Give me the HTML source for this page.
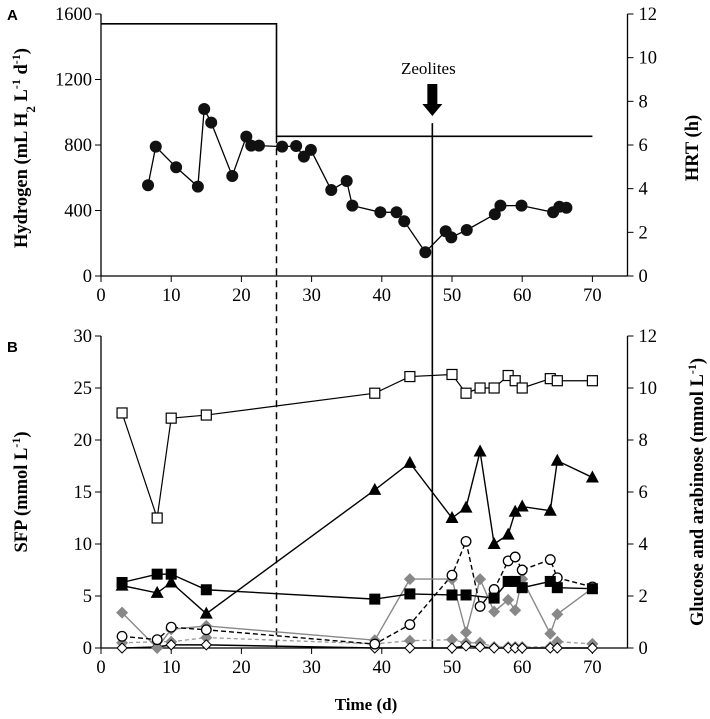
<!DOCTYPE html>
<html><head><meta charset="utf-8"><style>
html,body{margin:0;padding:0;background:#fff;}
svg{display:block;font-family:"Liberation Serif",serif;}
</style></head><body>
<svg id="chart" width="710" height="719" viewBox="0 0 710 719" xmlns="http://www.w3.org/2000/svg"></svg>
<script>
// ---- Panel A data ----
const h2Days = [6.7,7.8,10.7,13.8,14.7,15.7,18.7,20.7,21.4,22.5,25.8,27.8,28.9,29.9,32.8,35.0,35.8,39.8,42.1,43.2,46.2,49.1,49.9,52.1,56.1,56.9,59.9,64.4,65.3,66.3];
const h2Values = [554,790,664,546,1020,937,611,851,796,796,790,794,729,770,525,580,430,389,389,334,145,273,236,281,377,430,430,389,423,417];
const hrtDays = [0,25,25,70];
const hrtValues = [11.55,11.55,6.4,6.4];
const aLeftTicks = [0,400,800,1200,1600];
const aRightTicks = [0,2,4,6,8,10,12];
const xTicks = [0,10,20,30,40,50,60,70];
// ---- Panel B data ----
const bDays = [3,8,10,15,39,44,50,52,54,56,58,59,60,64,65,70];
const openSquares = [22.6,12.5,22.1,22.4,24.5,26.1,26.3,24.5,25.0,25.0,26.2,25.7,25.0,25.9,25.7,25.7];
const triangles = [6.0,5.3,6.3,3.3,15.2,17.8,12.5,13.5,18.9,10.0,10.9,13.1,13.6,13.2,18.0,16.4];
const sqDays = [3,8,10,15,39,44,50,52,56,58,59,60,64,65,70];
const filledSquares = [6.3,7.1,7.1,5.6,4.7,5.2,5.1,5.1,4.8,6.4,6.4,5.8,6.4,5.8,5.7];
const openCircles = [0.45,0.32,0.8,0.7,0.15,0.9,2.8,4.1,1.6,2.25,3.35,3.5,3.0,3.4,2.7,2.35];
const grayDiamonds = [1.36,0,0.72,0.85,0.3,2.65,2.65,0.6,2.65,1.4,1.85,1.45,2.65,0.55,1.3,2.3];
const grayDashDiamonds = [0.2,0.24,0.24,0.4,0.16,0.28,0.32,0.2,0.2,0.04,0.04,0.04,0.04,0.04,0.24,0.16];
const openDiamonds = [0,0.04,0.12,0.12,0,0,0,0.08,0.04,0,0,0,0,0,0,0];
const bLeftTicks = [0,5,10,15,20,25,30];
const bRightTicks = [0,2,4,6,8,10,12];

const NS='http://www.w3.org/2000/svg';
const svg=document.getElementById('chart');
function mk(tag,attrs,parent){const e=document.createElementNS(NS,tag);for(const k in attrs)e.setAttribute(k,attrs[k]);(parent||svg).appendChild(e);return e;}
const X0=101, XU=7.02;
const xs=d=>X0+XU*d;
const XR=xs(75);
const aY=v=>276-v*(262/1600);
const aYR=v=>276-v*(262/12);
const bY=v=>648-v*(312/30);
const bYR=v=>648-v*(312/12);

function axes(top,bottom,leftTicks,lfn,rightTicks,rfn,prefix){
  const g=mk('g',{});
  
  
  mk('line',{x1:X0,y1:top,x2:X0,y2:bottom,stroke:'#000','stroke-width':1.3},g);
  mk('line',{x1:XR,y1:top,x2:XR,y2:bottom,stroke:'#000','stroke-width':1.3},g);
  mk('line',{x1:X0,y1:bottom,x2:XR,y2:bottom,stroke:'#000','stroke-width':1.3},g);
  leftTicks.forEach(t=>{const y=lfn(t);mk('line',{x1:X0-6,y1:y,x2:X0,y2:y,stroke:'#000'},g);
    const tx=mk('text',{x:X0-9,y:y+6,'text-anchor':'end','font-size':18.5},g);tx.textContent=t;
    });
  rightTicks.forEach(t=>{const y=rfn(t);mk('line',{x1:XR,y1:y,x2:XR+6,y2:y,stroke:'#000'},g);
    const tx=mk('text',{x:XR+11,y:y+6,'text-anchor':'start','font-size':18.5},g);tx.textContent=t;
    });
  xTicks.forEach(t=>{const x=xs(t);mk('line',{x1:x,y1:bottom,x2:x,y2:bottom+6,stroke:'#000'},g);
    const tx=mk('text',{x:x,y:bottom+25,'text-anchor':'middle','font-size':18.5},g);tx.textContent=t;
    });
}
axes(14,276,aLeftTicks,aY,aRightTicks,aYR,'panel-a');
axes(336,648,bLeftTicks,bY,bRightTicks,bYR,'panel-b');

function poly(xsArr,ysArr,fy,style,name){
  const p=mk('polyline',Object.assign({points:xsArr.map((d,i)=>xs(d)+','+fy(ysArr[i])).join(' '),fill:'none'},style));
  
  
}
function marker(type,x,y,name){
  let e;
  if(type==='fcircle')e=mk('circle',{cx:x,cy:y,r:6,fill:'#111'});
  else if(type==='ocircle')e=mk('circle',{cx:x,cy:y,r:4.8,fill:'#fff',stroke:'#000','stroke-width':1.3});
  else if(type==='osquare')e=mk('rect',{x:x-5,y:y-5,width:10,height:10,fill:'#fff',stroke:'#000','stroke-width':1.2});
  else if(type==='fsquare')e=mk('rect',{x:x-5.5,y:y-5.5,width:11,height:11,fill:'#000'});
  else if(type==='tri')e=mk('polygon',{points:`${x},${y-7} ${x-6.5},${y+5} ${x+6.5},${y+5}`,fill:'#000'});
  else if(type==='gdiam')e=mk('polygon',{points:`${x},${y-6} ${x+6},${y} ${x},${y+6} ${x-6},${y}`,fill:'#888'});
  else if(type==='odiam')e=mk('polygon',{points:`${x},${y-5} ${x+5},${y} ${x},${y+5} ${x-5},${y}`,fill:'#fff',stroke:'#000','stroke-width':1});
  
  
}

// Panel A
poly(hrtDays,hrtValues,aYR,{stroke:'#000','stroke-width':1.6},'hrt-line');
poly(h2Days,h2Values,aY,{stroke:'#000','stroke-width':1.3},'hydrogen-line');
h2Days.forEach((d,i)=>marker('fcircle',xs(d),aY(h2Values[i]),'hydrogen-point'));

const dash=mk('line',{x1:xs(25),y1:aYR(6.4),x2:xs(25),y2:648,stroke:'#000','stroke-width':1.5,'stroke-dasharray':'7,5'});

const zl=mk('line',{x1:xs(47.2),y1:aYR(7.0),x2:xs(47.2),y2:648,stroke:'#000','stroke-width':1.6});

const ax=xs(47.2);
const arr=mk('polygon',{points:`${ax-5},84 ${ax+5},84 ${ax+5},104 ${ax+10},104 ${ax},116 ${ax-10},104 ${ax-5},104`,fill:'#000'});

const zt=mk('text',{x:ax-4,y:74,'text-anchor':'middle','font-size':17});zt.textContent='Zeolites';


// Panel B
poly(bDays,grayDashDiamonds,bYR,{stroke:'#999','stroke-width':1.3,'stroke-dasharray':'4,3'},'gray-dashed-series-line');
poly(bDays,openDiamonds,bYR,{stroke:'#000','stroke-width':1.5},'open-diamond-line');
poly(bDays,grayDiamonds,bYR,{stroke:'#888','stroke-width':1.4},'gray-diamond-line');
poly(bDays,openCircles,bYR,{stroke:'#000','stroke-width':1.4,'stroke-dasharray':'5,3'},'open-circle-line');
poly(sqDays,filledSquares,bY,{stroke:'#000','stroke-width':1.4},'filled-square-line');
poly(bDays,triangles,bY,{stroke:'#000','stroke-width':1.4},'triangle-line');
poly(bDays,openSquares,bY,{stroke:'#000','stroke-width':1.2},'open-square-line');
bDays.forEach((d,i)=>marker('gdiam',xs(d),bYR(grayDashDiamonds[i]),'gray-dashed-point'));
bDays.forEach((d,i)=>marker('odiam',xs(d),bYR(openDiamonds[i]),'open-diamond-point'));
bDays.forEach((d,i)=>marker('gdiam',xs(d),bYR(grayDiamonds[i]),'gray-diamond-point'));
bDays.forEach((d,i)=>marker('ocircle',xs(d),bYR(openCircles[i]),'open-circle-point'));
sqDays.forEach((d,i)=>marker('fsquare',xs(d),bY(filledSquares[i]),'filled-square-point'));
bDays.forEach((d,i)=>marker('tri',xs(d),bY(triangles[i]),'triangle-point'));
bDays.forEach((d,i)=>marker('osquare',xs(d),bY(openSquares[i]),'open-square-point'));
</script>
<div style="position:absolute;left:0;top:0;width:710px;height:719px;pointer-events:none;">
<svg width="710" height="719" style="position:absolute;left:0;top:0;font-family:'Liberation Serif',serif;">
<text x="7" y="20" font-size="15" font-weight="bold" font-family="Liberation Sans, sans-serif">A</text>
<text x="7" y="352" font-size="15" font-weight="bold" font-family="Liberation Sans, sans-serif">B</text>
<text transform="translate(27,148) rotate(-90)" text-anchor="middle" font-size="18.5" font-weight="bold">Hydrogen (mL H<tspan baseline-shift="sub" font-size="13">2</tspan> L<tspan baseline-shift="super" font-size="12">-1</tspan> d<tspan baseline-shift="super" font-size="12">-1</tspan>)</text>
<text transform="translate(698,148) rotate(-90)" text-anchor="middle" font-size="18.5" font-weight="bold">HRT (h)</text>
<text transform="translate(27,492) rotate(-90)" text-anchor="middle" font-size="18.5" font-weight="bold">SFP (mmol L<tspan baseline-shift="super" font-size="12">-1</tspan>)</text>
<text transform="translate(703,492) rotate(-90)" text-anchor="middle" font-size="18.5" font-weight="bold">Glucose and arabinose (mmol L<tspan baseline-shift="super" font-size="12">-1</tspan>)</text>
<text x="366" y="710" text-anchor="middle" font-size="17" font-weight="bold">Time (d)</text>
</svg></div>
</body></html>
